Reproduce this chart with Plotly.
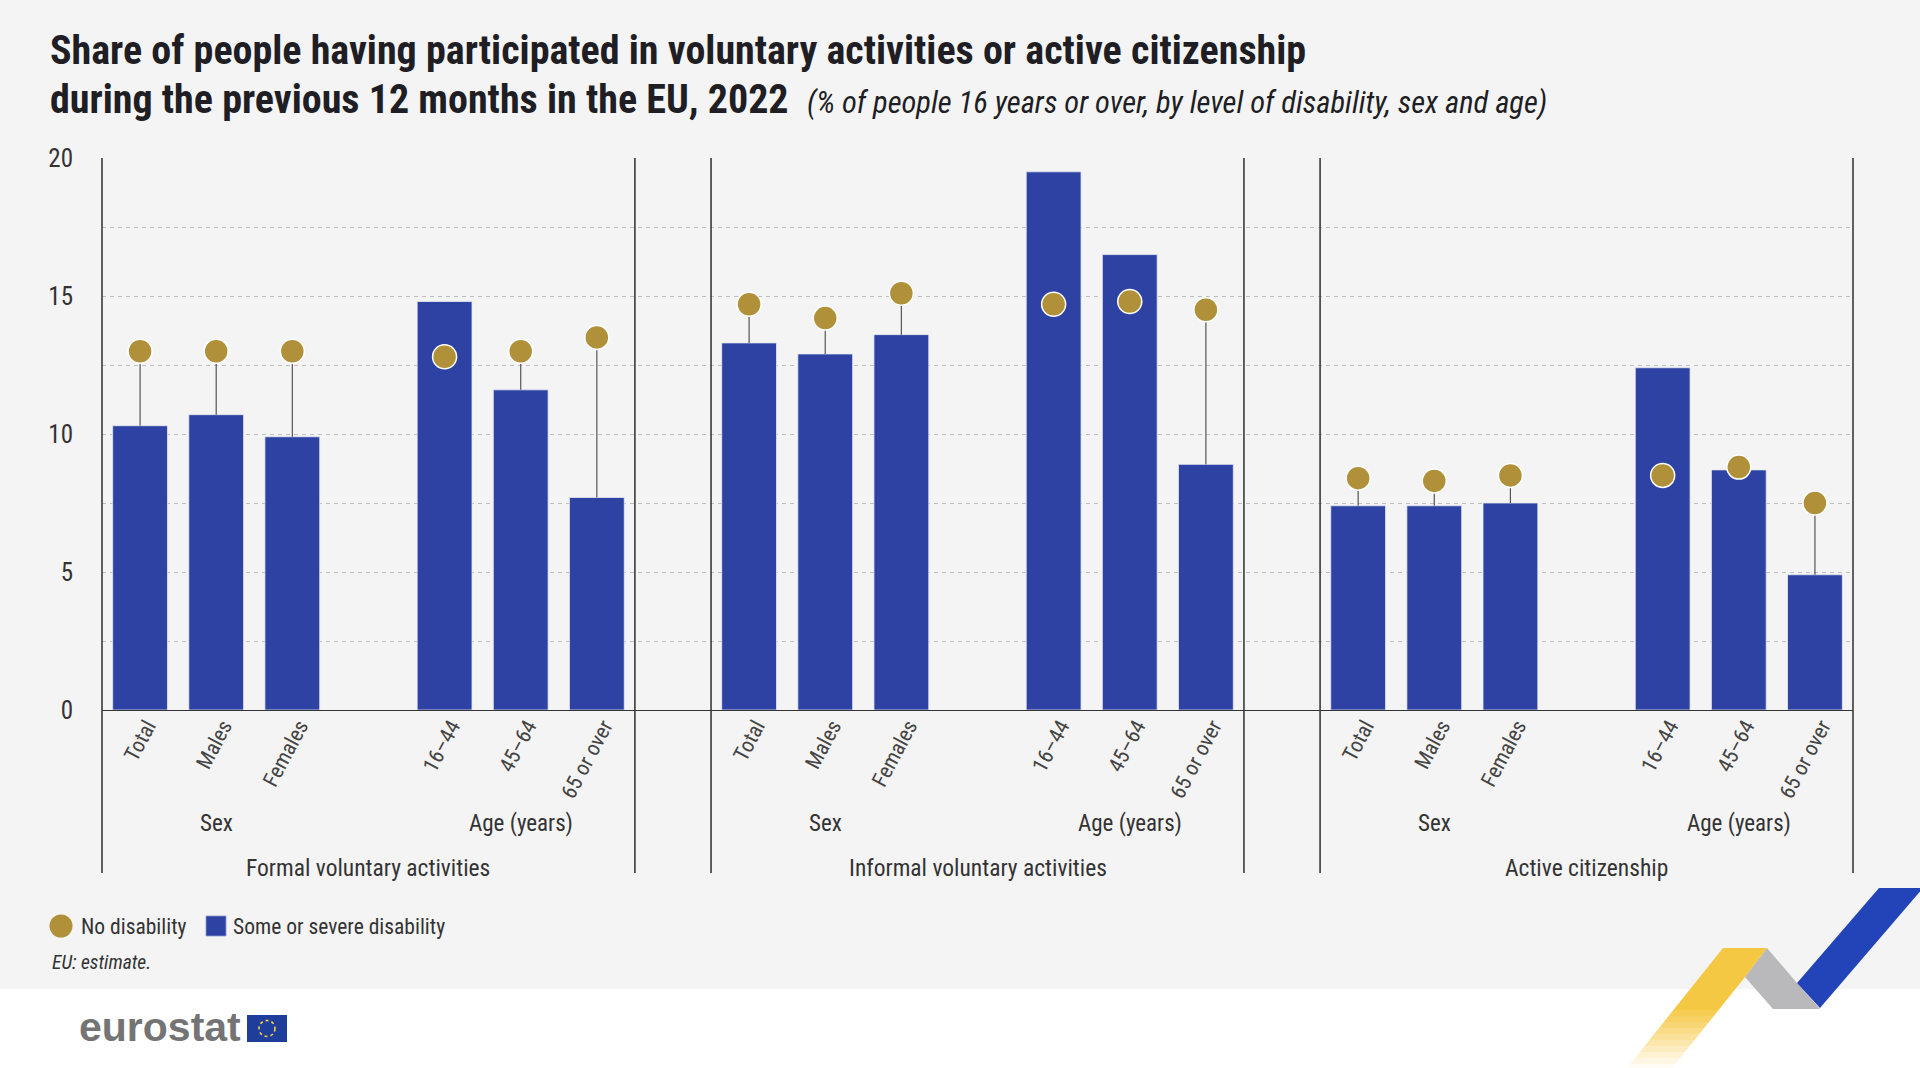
import plotly.graph_objects as go

# ---------------- data ----------------
activities = ["Formal voluntary activities", "Informal voluntary activities", "Active citizenship"]
subgroups = ["Sex", "Age (years)"]
categories = ["Total", "Males", "Females", "16–44", "45–64", "65 or over"]

formal_no_disability = [13.0, 13.0, 13.0, 12.8, 13.0, 13.5]
formal_disability = [10.3, 10.7, 9.9, 14.8, 11.6, 7.7]
informal_no_disability = [14.7, 14.2, 15.1, 14.7, 14.8, 14.5]
informal_disability = [13.3, 12.9, 13.6, 19.5, 16.5, 8.9]
active_no_disability = [8.4, 8.3, 8.5, 8.5, 8.8, 7.5]
active_disability = [7.4, 7.4, 7.5, 12.4, 8.7, 4.9]

y_tick_values = [0, 5, 10, 15, 20]
legend_names = ["No disability", "Some or severe disability"]

# ---------------- styling ----------------
FONT = "Roboto Condensed, Liberation Sans Narrow, Arial Narrow, DejaVu Sans Condensed, sans-serif"
BLUE = "#2D42A2"
GOLD = "#B0913A"
BG = "#F4F4F4"
TXT = "#333333"

W, H = 1920, 1068
ML, MT = 102, 158
PW, PH = 1751, 552
MR = W - ML - PW
MB = H - MT - PH
PB = MT + PH


def px(X):
    """screen x (px) -> paper coordinate"""
    return (X - ML) / PW


def py(Y):
    """screen y (px) -> paper coordinate"""
    return (PB - Y) / PH


# layout of slots: 3 groups of 7 slots (one empty in the middle), 1 gap slot between groups
slot_offsets = [0, 1, 2, 4, 5, 6]
stride = 8
n_slots = 23
x_lo, x_hi = -0.5, n_slots - 0.5

no_dis_all = [formal_no_disability, informal_no_disability, active_no_disability]
dis_all = [formal_disability, informal_disability, active_disability]

xs, labels, no_vals, dis_vals = [], [], [], []
for g in range(len(activities)):
    for k, off in enumerate(slot_offsets):
        xs.append(g * stride + off)
        labels.append(categories[k])
        no_vals.append(no_dis_all[g][k])
        dis_vals.append(dis_all[g][k])

stem_minus = [max(n - d, 0) for n, d in zip(no_vals, dis_vals)]

fig = go.Figure()
fig.add_trace(go.Bar(
    x=xs, y=dis_vals, name=legend_names[1],
    marker=dict(color=BLUE, line=dict(color="#E8EAF4", width=0.8)),
    width=0.72, showlegend=False,
))
fig.add_trace(go.Scatter(
    x=xs, y=no_vals, name=legend_names[0], mode="markers",
    marker=dict(color=GOLD, size=24, line=dict(color="white", width=1.5)),
    error_y=dict(type="data", symmetric=False, array=[0] * len(xs),
                 arrayminus=stem_minus, color="#555555", thickness=1.2, width=0),
    showlegend=False,
))

shapes = []
# dark group dividers
for g in range(len(activities)):
    for xv in (g * stride - 0.5, g * stride + 6.5):
        xp = (xv - x_lo) / (x_hi - x_lo)
        shapes.append(dict(type="line", xref="paper", yref="paper", x0=xp, x1=xp,
                           y0=1, y1=py(873), line=dict(color="#3A3A3A", width=1.6),
                           layer="above"))
    # light dividers inside group
    for j in range(6):
        xv = g * stride + j + 0.5
        long_line = j in (2, 3)
        shapes.append(dict(type="line", xref="x", yref="paper", x0=xv, x1=xv,
                           y0=1, y1=py(828) if long_line else py(727),
                           line=dict(color="#C9C9C9", width=1), layer="between"))

# grey panel & white footer
shapes.append(dict(type="rect", xref="paper", yref="paper", x0=px(-20), x1=px(1960),
                   y0=py(989), y1=py(-20), fillcolor=BG, line=dict(width=0), layer="below"))

# manual legend symbols
shapes.append(dict(type="circle", xref="paper", yref="paper", x0=px(49.5), x1=px(72.5),
                   y0=py(937.5), y1=py(914.5), fillcolor=GOLD, line=dict(width=0)))
shapes.append(dict(type="rect", xref="paper", yref="paper", x0=px(206), x1=px(226),
                   y0=py(936), y1=py(916), fillcolor=BLUE, line=dict(color="#8E9AD0", width=0.8)))

# eurostat flag
shapes.append(dict(type="rect", xref="paper", yref="paper", x0=px(247), x1=px(287),
                   y0=py(1042), y1=py(1015), fillcolor="#1F3E9C", line=dict(width=0)))
shapes.append(dict(type="circle", xref="paper", yref="paper", x0=px(259), x1=px(275),
                   y0=py(1036.5), y1=py(1020.5), fillcolor="rgba(0,0,0,0)",
                   line=dict(color="#F6D23C", width=1.6, dash="dot")))


def path_px(points):
    return "M " + " L ".join(f"{px(x):.5f},{py(y):.5f}" for x, y in points) + " Z"


# decorative ribbon
shapes.append(dict(type="path", xref="paper", yref="paper",
                   path=path_px([(1767, 948), (1797, 983), (1820, 1009), (1773, 1009), (1745, 977)]),
                   fillcolor="#B9B9BC", line=dict(width=0)))
shapes.append(dict(type="path", xref="paper", yref="paper",
                   path=path_px([(1879, 888), (1923, 888), (1820, 1008), (1797, 983)]),
                   fillcolor="#2344B8", line=dict(width=0)))


def yx_left(y):
    return 1723 - (y - 948) * 0.8


def yx_right(y):
    if y <= 977:
        return 1767 - (y - 948) * (22 / 29)
    return 1745 - (y - 977) * 0.8


# yellow band, fading towards the bottom
cuts = [948, 1010, 1016, 1022, 1028, 1034, 1040, 1046, 1052, 1058, 1064, 1068]
ops = [1.0, 0.92, 0.84, 0.74, 0.64, 0.54, 0.44, 0.34, 0.24, 0.14, 0.06]
for y0, y1, op in zip(cuts[:-1], cuts[1:], ops):
    pts = [(yx_left(y0), y0), (yx_right(y0), y0)]
    if y0 < 977 < y1:
        pts.append((yx_right(977), 977))
    pts += [(yx_right(y1), y1), (yx_left(y1), y1)]
    shapes.append(dict(type="path", xref="paper", yref="paper", path=path_px(pts),
                       fillcolor="#F5C843", opacity=op, line=dict(width=0)))

annotations = []
# subgroup and activity labels
for g, act in enumerate(activities):
    for s, sg in enumerate(subgroups):
        annotations.append(dict(x=g * stride + 1 + 4 * s, y=py(823), xref="x", yref="paper",
                                text=sg, showarrow=False, xanchor="center", yanchor="middle",
                                font=dict(family=FONT, size=23, color=TXT)))
    annotations.append(dict(x=g * stride + 3, y=py(868), xref="x", yref="paper",
                            text=act, showarrow=False, xanchor="center", yanchor="middle",
                            font=dict(family=FONT, size=23.5, color=TXT)))

# title
annotations.append(dict(x=px(48), y=py(51), xref="paper", yref="paper", xanchor="left",
                        yanchor="middle", showarrow=False,
                        text="<b>Share of people having participated in voluntary activities or active citizenship</b>",
                        font=dict(family=FONT, size=40, color="#1E1E24")))
annotations.append(dict(x=px(48), y=py(100), xref="paper", yref="paper", xanchor="left",
                        yanchor="middle", showarrow=False,
                        text="<b>during the previous 12 months in the EU, 2022</b>  "
                             "<i><span style='font-size:30.5px'>(% of people 16 years or over, by level of disability, sex and age)</span></i>",
                        font=dict(family=FONT, size=40, color="#1E1E24")))
# legend texts
annotations.append(dict(x=px(79), y=py(926), xref="paper", yref="paper", xanchor="left",
                        yanchor="middle", showarrow=False, text=legend_names[0],
                        font=dict(family=FONT, size=21.5, color=TXT)))
annotations.append(dict(x=px(231), y=py(926), xref="paper", yref="paper", xanchor="left",
                        yanchor="middle", showarrow=False, text=legend_names[1],
                        font=dict(family=FONT, size=21.5, color=TXT)))
# footnote
annotations.append(dict(x=px(50), y=py(962), xref="paper", yref="paper", xanchor="left",
                        yanchor="middle", showarrow=False, text="<i>EU: estimate.</i>",
                        font=dict(family=FONT, size=19.5, color=TXT)))
# eurostat wordmark
annotations.append(dict(x=px(77), y=py(1027), xref="paper", yref="paper", xanchor="left",
                        yanchor="middle", showarrow=False, text="<b>eurostat</b>",
                        font=dict(family="Liberation Sans, Arial, sans-serif", size=41, color="#747474")))

fig.update_layout(
    width=W, height=H,
    margin=dict(l=ML, r=MR, t=MT, b=MB, pad=0),
    paper_bgcolor="white", plot_bgcolor=BG,
    font=dict(family=FONT, color=TXT),
    showlegend=False,
    xaxis=dict(range=[x_lo, x_hi], tickmode="array", tickvals=xs, ticktext=labels,
               tickangle=-62, tickfont=dict(family=FONT, size=21.5, color="#444444"),
               showgrid=False, zeroline=False, showline=True, linecolor="#333333",
               linewidth=1.4, ticks="", ticklabelstandoff=-6, ticklabelshift=7,
               fixedrange=True),
    yaxis=dict(range=[0, 20], tickmode="array", tickvals=y_tick_values,
               tickfont=dict(family=FONT, size=25, color=TXT),
               showgrid=True, gridcolor="#BDBDBD", griddash="4px,4px", gridwidth=1,
               minor=dict(dtick=2.5, showgrid=True, gridcolor="#BDBDBD", griddash="4px,4px", gridwidth=1),
               zeroline=False, showline=False, ticks="", ticklabelstandoff=28, fixedrange=True),
    shapes=shapes, annotations=annotations, bargap=0.28,
)

fig.write_html(
    "out.html",
    config={"displayModeBar": False},
    post_script="document.body.style.margin='0';document.documentElement.style.overflow='hidden';",
)
